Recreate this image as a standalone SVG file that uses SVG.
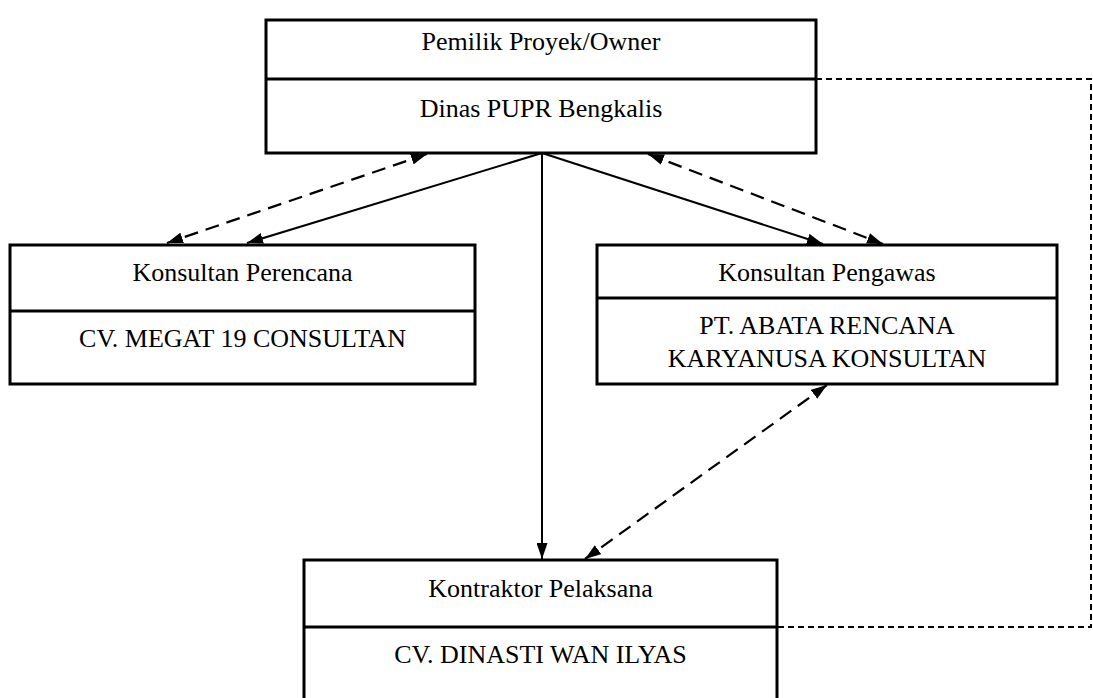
<svg xmlns="http://www.w3.org/2000/svg" width="1093" height="698" viewBox="0 0 1093 698">
<defs>
<marker id="ah" viewBox="0 0 16 11" refX="16" refY="5.5" markerWidth="16" markerHeight="11" markerUnits="userSpaceOnUse" orient="auto-start-reverse">
<path d="M0,0 L16,5.5 L0,11 Z" fill="#000"/>
</marker>
<style>
.box{fill:#fff;stroke:#000;stroke-width:3}
.div{stroke:#000;stroke-width:3}
.t{font-family:"Liberation Serif","Times New Roman",serif;font-size:26px;fill:#000;text-anchor:middle}
.sol{stroke:#000;stroke-width:2;fill:none}
.dsh{stroke:#000;stroke-width:2.2;fill:none;stroke-dasharray:14 8}
.out{stroke:#000;stroke-width:2;fill:none;stroke-dasharray:6 4}
</style>
</defs>
<rect width="1093" height="698" fill="#fff"/>
<g id="connectors">
<polyline class="out" points="816,79 1091,79 1091,627 777,627"/>
<line class="sol" x1="542" y1="153" x2="247" y2="243" marker-end="url(#ah)"/>
<line class="dsh" x1="427" y1="154" x2="167" y2="243" marker-start="url(#ah)" marker-end="url(#ah)"/>
<line class="sol" x1="542" y1="153" x2="823" y2="244" marker-end="url(#ah)"/>
<line class="dsh" x1="648" y1="154" x2="883" y2="244" marker-start="url(#ah)" marker-end="url(#ah)"/>
<line class="sol" x1="542" y1="153" x2="542" y2="559" marker-end="url(#ah)"/>
<line class="dsh" x1="827" y1="385" x2="585" y2="559" marker-start="url(#ah)" marker-end="url(#ah)"/>
</g>
<g id="owner">
<rect class="box" x="266" y="20" width="550" height="133"/>
<line class="div" x1="266" y1="79" x2="816" y2="79"/>
<text class="t" x="541" y="50">Pemilik Proyek/Owner</text>
<text class="t" x="541" y="117">Dinas PUPR Bengkalis</text>
</g>
<g id="perencana">
<rect class="box" x="10" y="245" width="465" height="139"/>
<line class="div" x1="10" y1="311" x2="475" y2="311"/>
<text class="t" x="242.5" y="281">Konsultan Perencana</text>
<text class="t" x="242.5" y="347">CV. MEGAT 19 CONSULTAN</text>
</g>
<g id="pengawas">
<rect class="box" x="597" y="245" width="460" height="139"/>
<line class="div" x1="597" y1="298" x2="1057" y2="298"/>
<text class="t" x="827" y="281">Konsultan Pengawas</text>
<text class="t" x="827" y="334">PT. ABATA RENCANA</text>
<text class="t" x="827" y="367">KARYANUSA KONSULTAN</text>
</g>
<g id="kontraktor">
<rect class="box" x="304" y="560" width="473" height="150"/>
<line class="div" x1="304" y1="627" x2="777" y2="627"/>
<text class="t" x="540.5" y="597">Kontraktor Pelaksana</text>
<text class="t" x="540.5" y="663">CV. DINASTI WAN ILYAS</text>
</g>
</svg>
